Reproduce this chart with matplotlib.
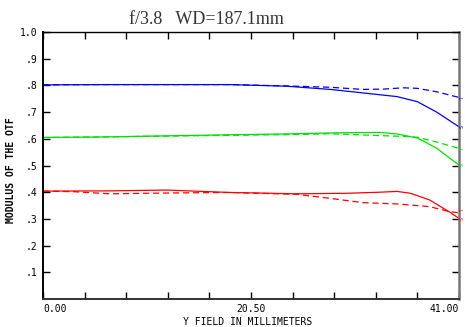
import matplotlib
matplotlib.use('Agg')
import matplotlib.pyplot as plt

# field positions (mm) and MTF values
blue_s_x = [0, 6, 12, 18.4, 24, 28.3, 31.5, 34.9, 36.9, 38.8, 41]
blue_s_y = [0.802, 0.803, 0.803, 0.803, 0.797, 0.785, 0.772, 0.758, 0.739, 0.700, 0.645]
blue_t_x = [0, 6, 12, 18.4, 24, 28.3, 31.5, 33.5, 35.5, 36.9, 38.8, 41]
blue_t_y = [0.802, 0.803, 0.803, 0.803, 0.798, 0.793, 0.785, 0.786, 0.791, 0.789, 0.776, 0.755]

green_s_x = [0, 6, 12, 18.4, 25, 28.3, 33.2, 34.9, 36.9, 38.8, 40.1, 41]
green_s_y = [0.605, 0.607, 0.611, 0.615, 0.619, 0.622, 0.624, 0.618, 0.603, 0.565, 0.527, 0.502]
green_t_x = [0, 6, 12, 18.4, 25, 28.3, 33.2, 35.5, 36.9, 38.8, 41]
green_t_y = [0.605, 0.607, 0.610, 0.613, 0.616, 0.619, 0.612, 0.609, 0.606, 0.588, 0.564]

red_s_x = [0, 6.6, 12.2, 18.4, 25, 30, 33.2, 34.9, 36.2, 38.1, 40.1, 41]
red_s_y = [0.404, 0.405, 0.408, 0.399, 0.394, 0.396, 0.400, 0.403, 0.396, 0.371, 0.325, 0.302]
red_t_x = [0, 3, 6.6, 12.2, 18.4, 25, 28.3, 31.5, 34.9, 38.1, 40.1, 41]
red_t_y = [0.404, 0.402, 0.394, 0.397, 0.399, 0.392, 0.377, 0.361, 0.356, 0.346, 0.327, 0.323]

y_ticks = [0.1, 0.2, 0.3, 0.4, 0.5, 0.6, 0.7, 0.8, 0.9, 1.0]
y_tick_labels = ['.1', '.2', '.3', '.4', '.5', '.6', '.7', '.8', '.9', '1.0']
x_ticks = [i * 4.1 for i in range(11)]
x_label_pos = [0, 20.5, 41]
x_label_txt = ['0.00', '20.50', '41.00']

mono = 'DejaVu Sans Mono'

fig = plt.figure(figsize=(4.65, 3.27), dpi=100)
ax = fig.add_axes([43 / 465, 28 / 327, 416 / 465, 267 / 327])

ax.plot(blue_s_x, blue_s_y, c='#0000ff', lw=0.9)
ax.plot(blue_t_x, blue_t_y, c='#0000ff', lw=0.9, ls=(0, (5, 3)))
ax.plot(green_s_x, green_s_y, c='#00e000', lw=0.9)
ax.plot(green_t_x, green_t_y, c='#00e000', lw=0.9, ls=(0, (5, 3)))
ax.plot(red_s_x, red_s_y, c='#ff0000', lw=0.9)
ax.plot(red_t_x, red_t_y, c='#ff0000', lw=0.9, ls=(0, (5, 3)))

ax.set_xlim(0, 41)
ax.set_ylim(0, 1.0)

ax.set_yticks(y_ticks)
ax.set_yticklabels(y_tick_labels, family=mono, fontsize=7)
ax.set_xticks(x_ticks)
ax.set_xticklabels([])
ax.tick_params(axis='y', direction='in', length=5, width=1, left=True, right=True, pad=4)
ax.tick_params(axis='x', direction='in', length=5, width=1, top=True, bottom=True)

for xp, txt, ha in zip(x_label_pos, x_label_txt, ['left', 'center', 'right']):
    ax.text(xp, -0.038, txt, ha=ha, va='center', family=mono, fontsize=7,
            transform=ax.get_xaxis_transform())

ax.spines['left'].set_linewidth(1.4)
ax.spines['bottom'].set_linewidth(1.4)
ax.spines['bottom'].set_color('#333333')
ax.spines['top'].set_linewidth(1.0)
ax.spines['right'].set_linewidth(1.8)
ax.spines['right'].set_color('#777777')

# small curve tags at the right end
tags = [(0.755, 'T', '#0000ff'), (0.645, 'S', '#0000ff'),
        (0.564, 'T', '#00e000'), (0.502, 'S', '#00e000'),
        (0.335, 'T', '#ff0000'), (0.300, 'S', '#ff0000')]
for yv, t, c in tags:
    fig.text(462 / 465, 28 / 327 + yv * 267 / 327, t, color=c, fontsize=3.5,
             rotation=90, va='center', ha='center', family=mono)

fig.text(206 / 465, 1 - 19 / 327, 'f/3.8   WD=187.1mm', ha='center', va='center',
         family='Liberation Serif', fontsize=13, color='#333333')
fig.text(248 / 465, 1 - 322 / 327, 'Y FIELD IN MILLIMETERS', ha='center', va='center',
         family=mono, fontsize=7)
fig.text(11 / 465, 1 - 170 / 327, 'MODULUS OF THE OTF', ha='center', va='center',
         rotation=90, family=mono, fontsize=7, weight='bold')

plt.savefig('out.png', dpi=100)
plt.close()
